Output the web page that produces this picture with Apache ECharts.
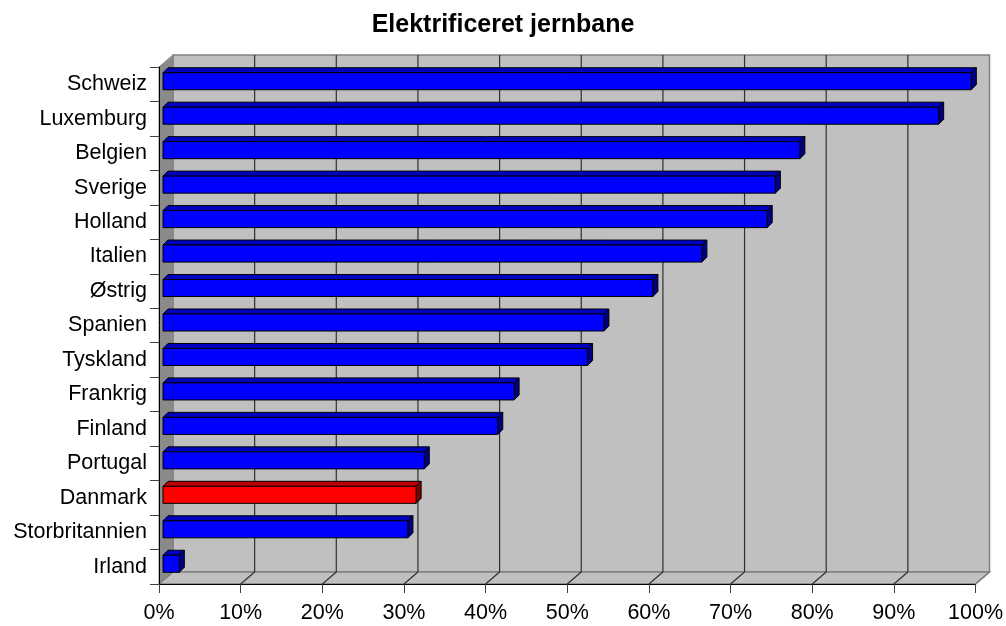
<!DOCTYPE html>
<html>
<head>
<meta charset="utf-8">
<script src="https://cdn.jsdelivr.net/npm/echarts@6/dist/echarts.min.js"></script>
<style>
html,body{margin:0;padding:0;background:#fff;}
#chart{width:1006px;height:626px;}
</style>
</head>
<body>
<div id="chart"></div>
<script>
const titleText = 'Elektrificeret jernbane';
const categories = ['Schweiz','Luxemburg','Belgien','Sverige','Holland','Italien','Østrig','Spanien','Tyskland','Frankrig','Finland','Portugal','Danmark','Storbritannien','Irland'];
const values = [99,95,78,75,74,66,60,54,52,43,41,32,31,30,2];
const xTicks = [0,10,20,30,40,50,60,70,80,90,100];
const highlight = 'Danmark';

const DX = 14, DY = -12;          // full wall depth offset
const BOX = 4, BOY = -3;          // bar front-face offset
const BDX = 5, BDY = -5;          // bar depth
const FONT = 'Liberation Sans, Arial, sans-serif';

const chart = echarts.init(document.getElementById('chart'), null, {renderer:'canvas'});

function wallsRender(params, api) {
  const band = api.size([0, 1])[1];
  const top = api.coord([0, 0])[1] - band / 2;
  const bottom = api.coord([0, categories.length - 1])[1] + band / 2;
  const x0 = api.coord([0, 0])[0];
  const x1 = api.coord([100, 0])[0];
  const children = [];
  children.push({type:'polygon', shape:{points:[[x0+DX,top+DY],[x1+DX,top+DY],[x1+DX,bottom+DY],[x0+DX,bottom+DY]]},
    style:{fill:'#C0C0C0', stroke:'#808080', lineWidth:1.5}});
  children.push({type:'polygon', shape:{points:[[x0,bottom],[x1,bottom],[x1+DX,bottom+DY],[x0+DX,bottom+DY]]},
    style:{fill:'#C0C0C0', stroke:'#808080', lineWidth:1.5}});
  children.push({type:'polygon', shape:{points:[[x0,top],[x0+DX,top+DY],[x0+DX,bottom+DY],[x0,bottom]]},
    style:{fill:'#8A8A8A', stroke:'#808080', lineWidth:1}});
  xTicks.forEach(function (t) {
    if (t === 0 || t === 100) return;
    const x = api.coord([t, 0])[0];
    children.push({type:'line', shape:{x1:x+DX, y1:top+DY, x2:x+DX, y2:bottom+DY}, style:{stroke:'#303030', lineWidth:1.2}});
    children.push({type:'line', shape:{x1:x, y1:bottom, x2:x+DX, y2:bottom+DY}, style:{stroke:'#303030', lineWidth:1.2}});
  });
  children.push({type:'line', shape:{x1:x1, y1:bottom, x2:x1+DX, y2:bottom+DY}, style:{stroke:'#808080', lineWidth:1.5}});
  children.push({type:'line', shape:{x1:x0, y1:bottom, x2:x0+DX, y2:bottom+DY}, style:{stroke:'#808080', lineWidth:1}});
  return {type:'group', children:children};
}

function barRender(params, api) {
  const ci = api.value(0);
  const v = api.value(1);
  const band = api.size([0, 1])[1];
  const h = band * 0.494;
  const p0 = api.coord([0, ci]);
  const p1 = api.coord([v, ci]);
  const xa = p0[0] + BOX, xb = p1[0] + BOX;
  const yt = p0[1] + BOY - h / 2, yb = p0[1] + BOY + h / 2;
  const red = categories[ci] === highlight;
  const cFront = red ? '#FF0000' : '#0000FF';
  const cTop = red ? '#C00000' : '#0000C0';
  const cSide = red ? '#800000' : '#000080';
  const st = {stroke:'#000', lineWidth:1, lineJoin:'round'};
  return {type:'group', children:[
    {type:'polygon', shape:{points:[[xa,yt],[xb,yt],[xb+BDX,yt+BDY],[xa+BDX,yt+BDY]]}, style:Object.assign({fill:cTop}, st)},
    {type:'polygon', shape:{points:[[xb,yt],[xb+BDX,yt+BDY],[xb+BDX,yb+BDY],[xb,yb]]}, style:Object.assign({fill:cSide}, st)},
    {type:'rect', shape:{x:xa, y:yt, width:xb-xa, height:yb-yt}, style:Object.assign({fill:cFront}, st)}
  ]};
}

const option = {
  animation: false,
  backgroundColor: '#ffffff',
  title: {
    text: titleText, left: 'center', top: 8,
    padding: [5, 0, 5, 11],
    textStyle: {fontFamily: FONT, fontWeight: 'bold', fontSize: 25, color: '#000'}
  },
  grid: {left: 159, right: 29, top: 67, bottom: 42, containLabel: false},
  xAxis: {
    type: 'value', min: 0, max: 100, interval: 10, z: 5,
    axisLine: {show: true, lineStyle: {color: '#000', width: 1}},
    axisTick: {show: true, length: 9, lineStyle: {color: '#404040'}},
    splitLine: {show: false},
    axisLabel: {formatter: '{value}%', fontFamily: FONT, fontSize: 21.5, color: '#000', margin: 18}
  },
  yAxis: {
    type: 'category', data: categories, inverse: true, z: 5,
    axisLine: {show: true, lineStyle: {color: '#000', width: 1}},
    axisTick: {show: true, length: 9, lineStyle: {color: '#404040'}},
    splitLine: {show: false},
    axisLabel: {fontFamily: FONT, fontSize: 21.5, color: '#000', margin: 12}
  },
  series: [
    {type: 'custom', z: 1, clip: false, silent: true, renderItem: wallsRender, data: [[0, 0]]},
    {type: 'custom', z: 3, clip: false, renderItem: barRender,
     encode: {x: 1, y: 0},
     data: values.map(function (v, i) { return [i, v]; })}
  ]
};
chart.setOption(option);
</script>
</body>
</html>
